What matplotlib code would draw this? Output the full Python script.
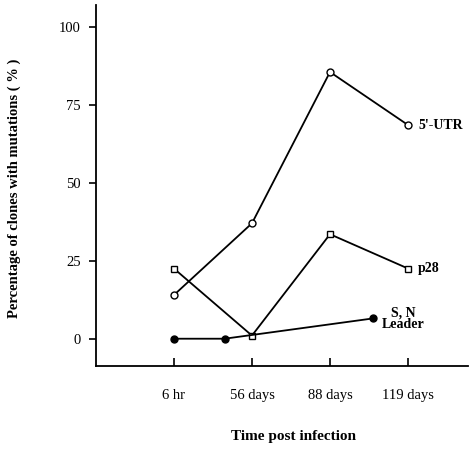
import matplotlib
matplotlib.use("Agg")
import matplotlib.pyplot as plt

plt.rcParams['font.family'] = ['Liberation Serif', 'DejaVu Serif']

tick_pos = [1, 2, 3, 4]
tick_labels = ['6 hr', '56 days', '88 days', '119 days']

utr_x = [1, 2, 3, 4]
utr_y = [14, 37, 85.5, 68.5]

p28_x = [1, 2, 3, 4]
p28_y = [22.5, 1, 33.5, 22.5]

sn_x = [1, 1.65, 3.55]
sn_y = [0, 0, 6.5]

fig = plt.figure(figsize=(4.7, 4.5), dpi=100)
ax = fig.add_axes([0.204, 0.187, 0.792, 0.802])

ax.plot(utr_x, utr_y, color='black', lw=1.3, marker='o', ms=5,
        mfc='white', mec='black', mew=1.0)
ax.plot(p28_x, p28_y, color='black', lw=1.3, marker='s', ms=4.5,
        mfc='white', mec='black', mew=1.0)
ax.plot(sn_x, sn_y, color='black', lw=1.3, marker='o', ms=5,
        mfc='black', mec='black')

ax.text(4.13, utr_y[3], "5'-UTR", fontsize=10, fontweight='bold', va='center', ha='left')
ax.text(4.13, p28_y[3], "p28", fontsize=10, fontweight='bold', va='center', ha='left')
ax.text(3.94, 6.4, "S, N\nLeader", fontsize=10, fontweight='bold', va='center',
        ha='center', linespacing=0.9)

ax.set_xlim(0, 4.77)
ax.set_ylim(-8.7, 107)
ax.set_yticks([0, 25, 50, 75, 100])
ax.set_xticks(tick_pos)
ax.set_xticklabels(tick_labels)

for s in ['top', 'right']:
    ax.spines[s].set_visible(False)
for s in ['left', 'bottom']:
    ax.spines[s].set_linewidth(1.3)

ax.tick_params(axis='y', direction='out', length=5, width=1.2, labelsize=10.5, pad=6)
ax.tick_params(axis='x', direction='in', length=6, width=1.2, labelsize=10.5, pad=17)

ax.set_xlabel('Time post infection', fontsize=11, fontweight='bold', va='center')
ax.xaxis.set_label_coords(0.53, -0.197)
ax.set_ylabel('Percentage of clones with mutations ( % )', fontsize=10.5,
              fontweight='bold', va='center')
ax.yaxis.set_label_coords(-0.22, 0.493)

fig.savefig('out.png', dpi=100)
